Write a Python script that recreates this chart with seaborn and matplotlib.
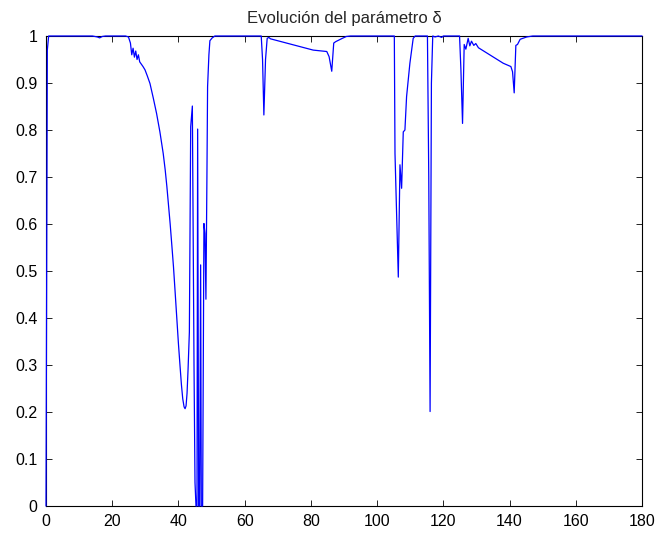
import numpy as np
import pandas as pd
import matplotlib
matplotlib.use("Agg")
import matplotlib.pyplot as plt
import seaborn as sns

# Parameter delta over time
t = [0.0, 0.4, 0.8, 14.0, 15.5, 16.2, 17.0, 18.0, 24.0, 24.9, 25.5, 25.9, 26.3, 26.7,
     27.1, 27.5, 27.9, 28.3, 28.8, 29.3, 29.9, 30.6, 31.4, 32.4, 33.4, 34.4, 35.4,
     36.0, 36.5, 37.0, 37.5, 38.0, 38.5, 39.0, 39.5, 40.0, 40.5, 40.9, 41.3, 41.7,
     42.0, 42.3, 42.6, 42.9, 43.3, 43.7, 44.2,
     44.7, 45.0, 45.3, 45.6, 45.8, 46.1, 46.4, 46.7, 46.9, 47.3, 47.7, 48.0, 48.3,
     48.6, 48.8, 49.2, 49.5, 50.2, 51.0, 65.0, 65.4, 65.8, 66.3, 66.8, 67.3, 67.8,
     80.7, 84.8, 85.5, 86.3, 86.9, 87.5, 89.2, 90.7, 92.0, 105.0, 105.2, 105.4,
     106.4, 106.9, 107.4, 107.9, 108.4, 108.9, 109.9, 110.9, 111.5, 115.2, 115.6,
     116.0, 116.4, 116.8, 117.5, 118.5, 119.5, 120.0, 124.9, 125.3, 125.8, 126.3,
     126.8, 127.5, 128.0, 128.5, 129.2, 129.8, 130.6, 138.1, 140.4, 140.9, 141.4,
     141.9, 142.4, 143.2, 145.2, 147.0, 180.0]
delta = [0.0, 0.97, 1.0, 1.0, 0.998, 0.996, 0.999, 1.0, 1.0, 0.998, 0.985, 0.96, 0.974,
         0.955, 0.968, 0.95, 0.96, 0.945, 0.94, 0.935, 0.928, 0.915, 0.899, 0.868, 0.835,
         0.796, 0.75, 0.715, 0.68, 0.64, 0.60, 0.555, 0.509, 0.455, 0.40, 0.345, 0.296,
         0.258, 0.228, 0.211, 0.207, 0.213, 0.24, 0.29, 0.37, 0.807, 0.851,
         0.3, 0.05, 0.0, 0.0, 0.802, 0.0, 0.0, 0.513, 0.0, 0.0,
         0.601, 0.58, 0.44, 0.7, 0.892, 0.96, 0.99, 0.996, 1.0, 1.0, 0.95, 0.832, 0.95,
         0.995, 0.997, 0.994, 0.970, 0.967, 0.956, 0.925, 0.985, 0.988, 0.994, 0.999,
         1.0, 1.0, 1.0, 0.75, 0.487, 0.726, 0.676, 0.796, 0.80, 0.871, 0.942, 0.995,
         1.0, 1.0, 0.7, 0.201, 0.9, 1.0, 0.998, 1.0, 0.997, 1.0, 1.0, 0.93, 0.814,
         0.982, 0.972, 0.995, 0.979, 0.989, 0.980, 0.984, 0.975, 0.942, 0.935, 0.924,
         0.879, 0.980, 0.982, 0.993, 0.998, 1.0, 1.0]

x_ticks = list(range(0, 181, 20))
y_ticks = [0.0, 0.1, 0.2, 0.3, 0.4, 0.5, 0.6, 0.7, 0.8, 0.9, 1.0]
y_tick_labels = ["0", "0.1", "0.2", "0.3", "0.4", "0.5", "0.6", "0.7", "0.8", "0.9", "1"]
title = "Evolución del parámetro δ"

sns.set_style("ticks")
plt.rcParams["font.family"] = ["Liberation Sans", "DejaVu Sans"]

df = pd.DataFrame({"t": t, "delta": delta})

fig = plt.figure(figsize=(6.59, 5.35), dpi=100)
W, H = 659, 535
ax = fig.add_axes([46 / W, (H - 506) / H, (642 - 46) / W, (506 - 36) / H])

sns.lineplot(data=df, x="t", y="delta", ax=ax, color="#0000FF", linewidth=0.9,
             estimator=None, sort=False, zorder=3, clip_on=False)

ax.set_xlim(0, 180)
ax.set_ylim(0, 1)
ax.set_xticks(x_ticks)
ax.set_xticklabels([str(v) for v in x_ticks])
ax.set_yticks(y_ticks)
ax.set_yticklabels(y_tick_labels)
ax.set_xlabel("")
ax.set_ylabel("")
ax.set_title(title, fontsize=12, pad=9)

for s in ax.spines.values():
    s.set_visible(True)
    s.set_color("black")
    s.set_linewidth(0.8)

ax.tick_params(axis="both", direction="in", length=4, width=0.6, colors="black",
               labelsize=11.5, top=True, right=True)
ax.tick_params(axis="x", pad=6)
ax.tick_params(axis="y", pad=6)

fig.savefig("out.png", dpi=100)
